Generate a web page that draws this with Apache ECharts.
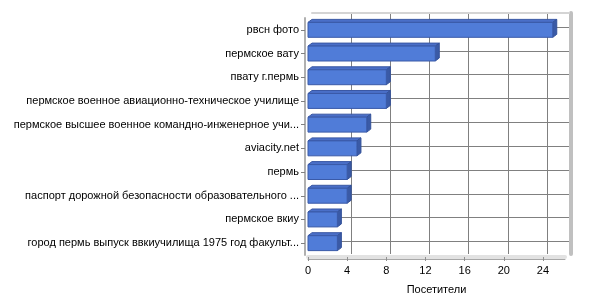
<!DOCTYPE html>
<html>
<head>
<meta charset="utf-8">
<script src="https://cdn.jsdelivr.net/npm/echarts@6/dist/echarts.min.js"></script>
<style>html,body{margin:0;padding:0;background:#fff}#chart{width:600px;height:300px}</style>
</head>
<body>
<div id="chart"></div>
<script>
const categories = [
  'рвсн фото',
  'пермское вату',
  'пвату г.пермь',
  'пермское военное авиационно-техническое училище',
  'пермское высшее военное командно-инженерное учи...',
  'aviacity.net',
  'пермь',
  'паспорт дорожной безопасности образовательного ...',
  'пермское вкиу',
  'город пермь выпуск ввкиучилища 1975 год факульт...'
];
const visitors = [25, 13, 8, 8, 6, 5, 4, 4, 3, 3];
const axisTitle = 'Посетители';
const xMax = 26.25;
const xInterval = 4;

const font = 'Liberation Sans';
const chart = echarts.init(document.getElementById('chart'), null, {renderer: 'canvas'});

const data = visitors.map((v, i) => [v, i]);

function renderItem(params, api) {
  const v = api.value(0), c = api.value(1);
  const p0 = api.coord([0, c]);
  const p1 = api.coord([v, c]);
  const band = api.size([0, 1])[1];
  const h = band * 0.63;
  const y0 = p0[1] - h / 2, y1 = p0[1] + h / 2;
  const dx = 4, dy = 3;
  const x0 = p0[0], x1 = p1[0];
  return {
    type: 'group',
    children: [
      {type: 'polygon', shape: {points: [[x0, y0], [x0 + dx, y0 - dy], [x1 + dx, y0 - dy], [x1, y0]]},
       style: {fill: '#4a6fc8', stroke: '#3a58a4', lineWidth: 1}},
      {type: 'polygon', shape: {points: [[x1, y0], [x1 + dx, y0 - dy], [x1 + dx, y1 - dy], [x1, y1]]},
       style: {fill: '#3a5aa6', stroke: '#34529a', lineWidth: 1}},
      {type: 'rect', shape: {x: x0, y: y0, width: x1 - x0, height: h},
       style: {fill: '#507cd8', stroke: '#3a5aa8', lineWidth: 1}}
    ]
  };
}

const option = {
  animation: false,
  backgroundColor: '#fff',
  textStyle: {fontFamily: font},
  grid: [
    {left: 308, top: 18, width: 257, height: 238},
    {left: 312, top: 13, width: 257, height: 241},
    {left: 312, top: 27, width: 257, height: 214.5}
  ],
  xAxis: [
    {gridIndex: 0, type: 'value', min: 0, max: xMax, interval: xInterval, position: 'bottom', offset: 2,
     axisLine: {show: true, onZero: false, lineStyle: {color: '#e2e2e2', width: 4}},
     axisTick: {show: true, length: 4, lineStyle: {color: '#909090'}},
     axisLabel: {color: '#000', fontSize: 11, fontFamily: font, margin: 8, showMaxLabel: false},
     splitLine: {show: false},
     name: axisTitle, nameLocation: 'middle', nameGap: 27,
     nameTextStyle: {color: '#000', fontSize: 11, fontFamily: font}},
    {gridIndex: 0, type: 'value', min: 0, max: xMax, interval: xInterval, position: 'bottom', offset: 4,
     axisLine: {show: true, onZero: false, lineStyle: {color: '#a8a8a8', width: 1}},
     axisTick: {show: false}, axisLabel: {show: false}, splitLine: {show: false}},
    {gridIndex: 1, type: 'value', min: 0, max: xMax, interval: xInterval, position: 'top',
     axisLine: {show: true, onZero: false, lineStyle: {color: '#d4d4d4', width: 2}},
     axisTick: {show: false}, axisLabel: {show: false},
     splitLine: {show: true, showMinLine: false, showMaxLine: false, lineStyle: {color: '#808080', width: 1}}},
    {gridIndex: 2, type: 'value', min: 0, max: xMax, show: false}
  ],
  yAxis: [
    {gridIndex: 0, type: 'category', data: categories, inverse: true, offset: 3,
     axisLine: {show: true, onZero: false, lineStyle: {color: '#b0b0b0', width: 2}},
     axisTick: {show: true, alignWithLabel: true, length: 4, lineStyle: {color: '#808080'}},
     axisLabel: {color: '#000', fontSize: 11, fontFamily: font, margin: 6},
     splitLine: {show: false}},
    {gridIndex: 1, type: 'value', min: 0, max: 1, position: 'right', offset: 2,
     axisLine: {show: true, onZero: false, lineStyle: {color: '#c0c0c0', width: 4}},
     axisTick: {show: false}, axisLabel: {show: false}, splitLine: {show: false}},
    {gridIndex: 2, type: 'category', data: categories, inverse: true, boundaryGap: false,
     axisLine: {show: false}, axisTick: {show: false}, axisLabel: {show: false},
     splitLine: {show: true, lineStyle: {color: '#808080', width: 1}}}
  ],
  series: [{
    type: 'custom',
    xAxisIndex: 0,
    yAxisIndex: 0,
    renderItem: renderItem,
    encode: {x: 0, y: 1},
    data: data,
    z: 5
  }]
};
chart.setOption(option);
</script>
</body>
</html>
